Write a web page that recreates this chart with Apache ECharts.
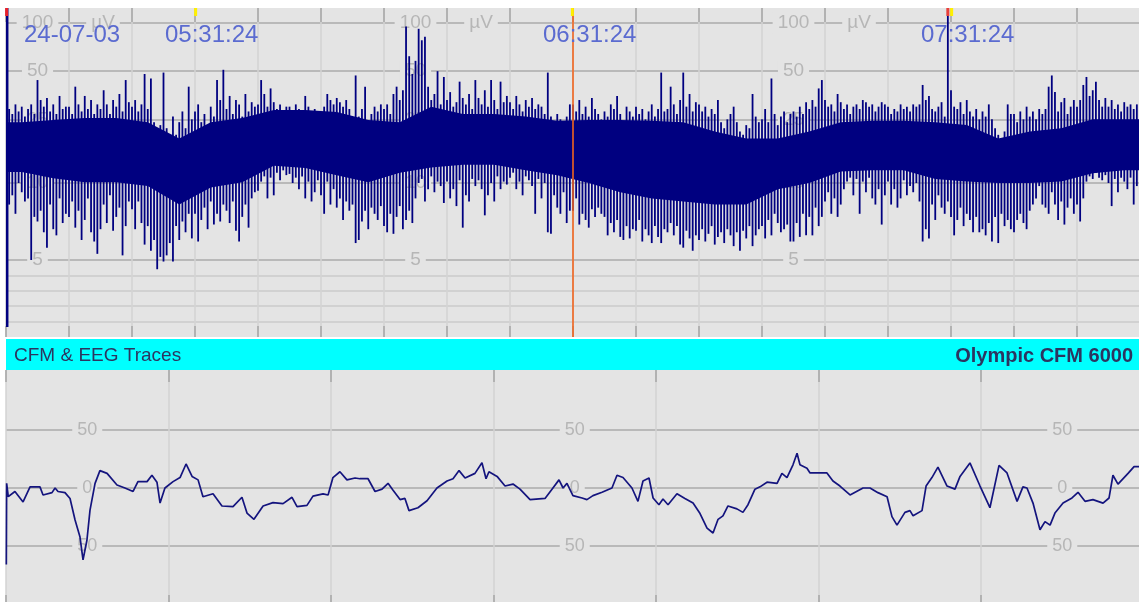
<!DOCTYPE html>
<html>
<head>
<meta charset="utf-8">
<title>CFM & EEG Traces</title>
<script src="https://cdn.jsdelivr.net/npm/echarts@6.0.0/dist/echarts.min.js"></script>
<style>
  html, body { margin: 0; padding: 0; background: #fff; }
  #chart { width: 1139px; height: 602px; }
</style>
</head>
<body>
<div id="chart"></div>
<script>
// CFM (aEEG) trace: one column per half minute, top and bottom of the column in µV
const cfmHi = [
  130, 29, 27, 31, 28, 30, 26, 29, 31, 27,
  44, 33, 30, 34, 28, 31, 27, 35, 29, 30,
  30, 27, 40, 31, 28, 35, 29, 33, 27, 31,
  29, 38, 31, 27, 33, 30, 36, 28, 44, 32,
  30, 33, 28, 31, 48, 29, 45, 24, 21, 23,
  49, 22, 19, 26, 20, 24, 28, 22, 40, 25,
  28, 31, 24, 27, 22, 30, 26, 44, 33, 51,
  29, 35, 27, 33, 31, 26, 36, 28, 32, 30,
  31, 44, 36, 30, 39, 32, 29, 31, 28, 30,
  30, 28, 31, 29, 27, 35, 30, 28, 29, 27,
  27, 30, 36, 33, 31, 34, 32, 30, 33, 29,
  25, 47, 26, 29, 40, 24, 27, 30, 28, 31,
  29, 31, 27, 36, 40, 33, 38, 95, 62, 48,
  58, 92, 78, 82, 40, 33, 36, 50, 31, 46,
  33, 37, 30, 32, 43, 34, 31, 36, 29, 44,
  34, 31, 38, 30, 44, 33, 29, 43, 32, 35,
  32, 29, 35, 31, 28, 33, 30, 34, 29, 31,
  30, 27, 49, 26, 24, 27, 25, 23, 26, 31,
  31, 28, 33, 27, 30, 26, 34, 29, 27, 25,
  28, 26, 31, 29, 35, 27, 24, 30, 28, 26,
  30, 27, 29, 25, 28, 31, 26, 29, 49, 28,
  29, 40, 31, 27, 33, 49, 30, 36, 28, 32,
  31, 28, 30, 26, 29, 27, 33, 24, 22, 25,
  27, 30, 24, 21, 20, 23, 22, 36, 26, 24,
  25, 29, 24, 45, 27, 23, 26, 28, 24, 27,
  28, 26, 30, 27, 32, 29, 33, 30, 39, 44,
  33, 30, 31, 28, 36, 32, 29, 31, 27, 30,
  31, 29, 33, 32, 30, 31, 28, 30, 32, 31,
  30, 27, 29, 28, 31, 29, 30, 28, 31, 30,
  31, 41, 33, 35, 29, 28, 30, 32, 26, 130,
  38, 30, 29, 32, 27, 33, 28, 26, 29, 25,
  28, 26, 31, 25, 22, 20, 18, 21, 31, 27,
  27, 24, 28, 25, 30, 26, 28, 25, 29, 27,
  29, 40, 47, 37, 28, 32, 34, 27, 30, 33,
  30, 33, 41, 46, 35, 38, 43, 33, 30, 34,
  30, 33, 29, 31, 28, 32, 30, 31, 29, 31
];
const cfmLo = [
  0.65, 8.6, 9.2, 8.0, 10.0, 9.4, 8.8, 9.0, 5.0, 7.8,
  7.5, 8.2, 6.8, 5.8, 8.6, 7.0, 6.6, 9.0, 7.4, 8.0,
  7.8, 8.8, 7.1, 8.2, 6.3, 7.6, 9.0, 6.8, 6.2, 5.4,
  7.0, 8.6, 7.4, 9.2, 6.9, 7.8, 8.4, 5.3, 7.2, 8.8,
  8.3, 7.0, 8.8, 7.4, 6.0, 7.2, 5.6, 6.3, 4.4, 5.2,
  4.9, 5.3, 6.1, 4.9, 7.2, 6.3, 7.5, 6.8, 8.0, 6.4,
  8.0, 6.2, 7.6, 8.4, 7.0, 8.8, 7.3, 8.0, 7.5, 8.6,
  8.2, 7.4, 8.8, 6.9, 6.2, 7.8, 8.6, 7.1, 9.0, 9.4,
  9.5, 10.2, 11.0, 9.0, 10.8, 9.2, 11.6, 10.4, 12.0, 11.2,
  11.4, 10.0, 10.8, 9.6, 11.0, 9.0, 10.2, 8.8, 9.4, 10.4,
  9.2, 8.0, 10.2, 8.6, 9.6, 8.4, 9.0, 7.6, 8.8, 8.2,
  8.6, 6.1, 6.3, 7.5, 8.2, 7.0, 8.4, 8.0, 7.6, 8.5,
  7.2, 6.8, 8.0, 6.7, 7.8, 8.5, 7.0, 7.6, 8.2, 7.4,
  9.0, 10.0, 10.6, 8.8, 9.6, 11.0, 9.4, 10.2, 9.8, 8.7,
  10.2, 9.0, 9.6, 8.5, 10.4, 7.1, 9.2, 8.8, 10.6, 9.8,
  10.4, 9.6, 7.9, 9.2, 10.0, 8.8, 11.0, 9.6, 10.2, 9.9,
  10.8, 11.6, 9.6, 10.2, 9.2, 11.0, 10.4, 9.8, 8.0, 10.6,
  9.0, 10.0, 6.8, 6.7, 9.2, 8.4, 8.0, 9.4, 7.4, 8.2,
  8.2, 9.0, 7.3, 8.0, 7.6, 7.1, 8.3, 7.8, 8.4, 8.0,
  7.8, 6.6, 7.4, 6.8, 7.6, 6.5, 6.3, 7.2, 6.4, 7.0,
  6.9, 7.6, 6.2, 7.0, 6.6, 6.1, 7.2, 6.5, 6.1, 7.0,
  6.8, 7.4, 6.6, 7.2, 6.0, 5.8, 6.9, 6.4, 5.6, 6.6,
  6.3, 7.0, 6.2, 6.7, 7.2, 6.0, 6.5, 6.8, 6.1, 7.0,
  6.6, 5.9, 6.8, 5.6, 6.9, 6.4, 7.2, 5.9, 6.6, 7.0,
  7.2, 6.4, 7.6, 6.6, 8.0, 7.4, 6.8, 7.0, 7.3, 6.2,
  6.2, 7.4, 6.5, 8.0, 6.6, 7.8, 6.6, 8.4, 7.2, 7.8,
  8.8, 9.4, 8.0, 9.0, 7.8, 8.6, 9.6, 10.2, 10.8, 9.2,
  10.6, 8.0, 10.2, 9.4, 10.8, 9.0, 8.6, 9.6, 7.3, 9.2,
  10.2, 8.6, 9.6, 8.4, 9.0, 10.4, 9.2, 9.8, 9.4, 10.0,
  8.8, 6.2, 7.0, 6.4, 8.6, 7.6, 9.2, 8.4, 8.0, 8.8,
  7.8, 6.6, 7.6, 8.4, 7.2, 8.0, 7.6, 6.8, 7.8, 6.8,
  7.0, 6.6, 7.4, 6.2, 7.8, 6.1, 8.0, 7.2, 7.6, 7.0,
  6.8, 7.6, 8.0, 7.4, 7.0, 8.2, 8.6, 9.0, 9.8, 8.6,
  8.4, 8.0, 9.4, 8.6, 7.6, 8.8, 7.3, 8.4, 9.0, 8.0,
  8.6, 7.5, 9.0, 10.2, 11.0, 10.6, 11.6, 10.8, 10.4, 11.2,
  10.0, 8.5, 10.6, 9.4, 10.8, 10.2, 9.6, 10.8, 8.6, 9.8
];
const cfmStepMin = 0.5;

// solid middle of the CFM band, one value per 5 minutes (µV)
const bandHi = [24, 24.8, 25.5, 25.5, 24, 19, 24, 25.5, 28.6, 28.6, 27.8, 24.8,
  24, 30, 27, 27, 26, 24.5, 24.8, 24.8, 24.5, 24, 21, 19,
  19, 21, 24, 24.5, 24.5, 24, 23, 19, 21, 22, 25, 25];
const bandLo = [11.7, 10.7, 10.1, 10.1, 9.8, 8.6, 9.7, 10.1, 12.8, 12.4, 11.2, 10.1,
  11.6, 12.5, 13, 13, 12, 11.2, 10, 9.4, 9.0, 8.8, 8.6, 8.6,
  9.6, 10, 11.8, 12, 12, 10.6, 10.2, 10, 10, 10.2, 11.5, 12];
const bandStepMin = 5;

const cfmTicks = [5, 10, 25, 50, 100];
const cfmMinorTicks = [1, 2, 3, 4];

// event marks along the top edge and the cursor, in minutes from the start
const eventMin = [0.1, 30.1, 89.9, 149.5, 150.1];
const eventColor = ['#e8202a', '#fff000', '#fff000', '#e8403a', '#fff000'];
const cursorMin = 90;

const dateLabel = '24-07-03';
const timeLabels = ['05:31:24', '06:31:24', '07:31:24'];
const timeLabelMin = [30, 90, 150];

// raw EEG trace: seconds, µV
const eegT = [
  0.002, 0.004, 0.014, 0.055, 0.105, 0.148, 0.209, 0.228, 0.283, 0.302,
  0.320, 0.363, 0.394, 0.425, 0.455, 0.474, 0.498, 0.517, 0.548, 0.578,
  0.622, 0.683, 0.732, 0.782, 0.812, 0.868, 0.898, 0.929, 0.948, 0.978,
  1.028, 1.071, 1.108, 1.145, 1.182, 1.212, 1.274, 1.329, 1.397, 1.452,
  1.483, 1.526, 1.582, 1.643, 1.705, 1.760, 1.791, 1.852, 1.889, 1.951,
  1.982, 2.012, 2.055, 2.098, 2.148, 2.178, 2.228, 2.271, 2.314, 2.351,
  2.382, 2.425, 2.455, 2.480, 2.535, 2.591, 2.652, 2.714, 2.751, 2.788,
  2.825, 2.886, 2.929, 2.954, 2.972, 3.022, 3.071, 3.120, 3.163, 3.225,
  3.317, 3.360, 3.403, 3.428, 3.452, 3.489, 3.545, 3.575, 3.612, 3.668,
  3.729, 3.760, 3.797, 3.852, 3.889, 3.920, 3.957, 3.982, 4.018, 4.043,
  4.074, 4.129, 4.178, 4.228, 4.271, 4.314, 4.351, 4.382, 4.412, 4.443,
  4.498, 4.535, 4.566, 4.609, 4.640, 4.683, 4.745, 4.775, 4.806, 4.843,
  4.868, 4.886, 4.929, 4.948, 5.052, 5.089, 5.132, 5.194, 5.274, 5.317,
  5.366, 5.422, 5.452, 5.483, 5.532, 5.563, 5.582, 5.637, 5.662, 5.698,
  5.735, 5.791, 5.840, 5.871, 5.932, 5.994, 6.055, 6.111, 6.160, 6.222,
  6.258, 6.283, 6.320, 6.363, 6.394, 6.425, 6.455, 6.505, 6.560, 6.597,
  6.640, 6.689, 6.751, 6.788, 6.812, 6.843, 6.905, 6.942, 6.978
];
const eegV = [
  -66, 4, -7.5, -3, -12, 1, 1, -6, -4, 0,
  -3, -4, -9, -27.6, -42, -62, -45, -19, 4, 15,
  12.6, 2.6, 0, -3, 5.5, 5.5, 11, 5, -13, 0,
  5.5, 9, 20.7, 10, 7, -7.5, -5, -15.5, -16, -8,
  -21.6, -27, -15.5, -12.6, -13.5, -8, -16, -15, -7, -5,
  -6, 9, 14, 7, 8.6, 8, 8, -3, -1, 4,
  -2, -10, -9, -19.5, -17, -11, 0, 6, 8, 15,
  8.6, 12.6, 21.8, 8, 14, 10, 1.7, 3.4, -1, -10,
  -9, -1, 7, 0, 4, -6.6, -8.6, -10, -6.6, -3.7,
  0, 11, 9, 0, -11.5, 6, 8.6, -8.6, -14.4, -9.5,
  -14.4, -5, -9, -13, -22, -34.5, -38.8, -27, -24, -15.5,
  -18, -21, -14.4, -1, 1, 5, 4, 12.6, 9, 20,
  30, 20, 17, 13, 13, 6, 1.7, -6, 0, 0,
  -4, -7.5, -24.7, -32, -21, -19.5, -24, -19.5, 1.7, 9,
  18, 1.7, -1, 10, 21.6, 1.7, -17, 19.5, 13, -11.5,
  1, 0, -13, -36, -29, -32, -21.6, -13, -8.6, -3.7,
  -11.5, -10, -13, -8.6, 11, 3.4, 12.6, 18.4, 18.4
];
const eegTicks = [-50, 0, 50];

const NAVY = '#000080';
const BG = '#e4e4e4';
const GRID_DARK = '#ababab';
const GRID_LIGHT = '#d3d3d3';
const LABEL = '#b6b6b6';
const FONT = "'Liberation Sans', Arial, sans-serif";

// CFM scale: linear 0-10 µV, log 10-100 µV (one decade = 160px, one µV = 15.4px)
const PX_PER_UV = 15.4;
const DECADE = 160 / PX_PER_UV;
const U = v => (v <= 10 ? v : 10 + DECADE * Math.log10(v / 10));

const TOP_H = 329;
const CFM_MAX = TOP_H / PX_PER_UV;
const PX_PER_MIN = 6.3;
const PX_PER_S = 162.5;
const EEG_MAX = 101.7;

const cfmLabel = u => {
    const v = cfmTicks.find(t => Math.abs(U(t) - u) < 1e-6);
    return v === undefined ? '' : String(v);
};

const labelAxis = (gridIndex, offset, min, max, values, formatter, fontSize) => ({
    type: 'value',
    gridIndex,
    position: 'left',
    offset: -offset,
    min,
    max,
    z: 3,
    axisLine: { show: false, onZero: false },
    axisTick: { show: false },
    splitLine: { show: false },
    axisLabel: {
        customValues: values,
        formatter,
        align: 'center',
        margin: 0,
        color: LABEL,
        fontSize,
        fontFamily: FONT,
        backgroundColor: BG,
        padding: [1, 5],
    },
});

const timeAxis = (gridIndex, position, max, interval, tickLen, split) => ({
    type: 'value',
    gridIndex,
    position,
    min: 0,
    max,
    interval,
    axisLine: { show: false, onZero: false },
    axisTick: { show: true, inside: true, length: tickLen, lineStyle: { color: '#a6a6a6', width: 1.5 } },
    axisLabel: { show: false },
    splitLine: { show: split, lineStyle: { color: GRID_LIGHT, width: 1.5 } },
});

const lineAxis = (gridIndex, min, max, values, color) => ({
    type: 'value',
    gridIndex,
    position: 'left',
    min,
    max,
    axisLine: { show: false, onZero: false },
    axisTick: { show: false, customValues: values },
    axisLabel: { show: false },
    splitLine: { show: true, lineStyle: { color, width: 1.5 } },
});

const cfmTickU = cfmTicks.map(U);

const option = {
    animation: false,
    backgroundColor: '#ffffff',
    grid: [
        { left: 6, top: 8, width: 180 * PX_PER_MIN, height: TOP_H, show: true, backgroundColor: BG, borderWidth: 0, outerBoundsMode: 'none' },
        { left: 6, top: 370, width: 7 * PX_PER_S, height: 236, show: true, backgroundColor: BG, borderWidth: 0, outerBoundsMode: 'none' },
    ],
    xAxis: [
        timeAxis(0, 'bottom', 180, 10, 11, true),
        timeAxis(0, 'top', 180, 10, 14, false),
        timeAxis(1, 'top', 7, 1, 12, true),
        timeAxis(1, 'bottom', 7, 1, 11, false),
    ],
    yAxis: [
        lineAxis(0, 0, CFM_MAX, cfmTickU, GRID_DARK),
        lineAxis(0, 0, CFM_MAX, cfmMinorTicks, '#cbcbcb'),
        labelAxis(0, 5 * PX_PER_MIN, 0, CFM_MAX, cfmTickU, cfmLabel, 19),
        labelAxis(0, 65 * PX_PER_MIN, 0, CFM_MAX, cfmTickU, cfmLabel, 19),
        labelAxis(0, 125 * PX_PER_MIN, 0, CFM_MAX, cfmTickU, cfmLabel, 19),
        labelAxis(0, 15.4 * PX_PER_MIN, 0, CFM_MAX, [U(100)], () => 'µV', 19),
        labelAxis(0, 75.4 * PX_PER_MIN, 0, CFM_MAX, [U(100)], () => 'µV', 19),
        labelAxis(0, 135.4 * PX_PER_MIN, 0, CFM_MAX, [U(100)], () => 'µV', 19),
        lineAxis(1, -EEG_MAX, EEG_MAX, eegTicks, GRID_DARK),
        labelAxis(1, 0.5 * PX_PER_S, -EEG_MAX, EEG_MAX, eegTicks, v => String(Math.abs(v)), 18),
        labelAxis(1, 3.5 * PX_PER_S, -EEG_MAX, EEG_MAX, eegTicks, v => String(Math.abs(v)), 18),
        labelAxis(1, 6.5 * PX_PER_S, -EEG_MAX, EEG_MAX, eegTicks, v => String(Math.abs(v)), 18),
    ],
    series: [
        {
            // solid middle of the band
            type: 'custom',
            xAxisIndex: 0,
            yAxisIndex: 0,
            z: 4,
            silent: true,
            data: [[90, 15]],
            renderItem: (params, api) => {
                const top = [];
                const bottom = [];
                const n = bandHi.length;
                for (let g = -1; g <= n; g++) {
                    const k = Math.min(Math.max(g, 0), n - 1);
                    const t = g < 0 ? 0 : g >= n ? 180 : bandStepMin / 2 + bandStepMin * g;
                    top.push(api.coord([t, U(bandHi[k])]));
                    bottom.push(api.coord([t, U(bandLo[k])]));
                }
                return { type: 'polygon', shape: { points: top.concat(bottom.reverse()) }, style: { fill: NAVY } };
            },
        },
        {
            // one column per sample
            type: 'custom',
            xAxisIndex: 0,
            yAxisIndex: 0,
            z: 5,
            silent: true,
            encode: { x: 0, y: [1, 2] },
            data: cfmHi.map((h, i) => [i * cfmStepMin, U(cfmLo[i]), U(h)]),
            renderItem: (params, api) => {
                const cs = params.coordSys;
                const first = params.dataIndex === 0;
                const x = api.coord([api.value(0), 0])[0] + (first ? 1.2 : 0);
                const yLo = Math.min(api.coord([0, api.value(1)])[1], cs.y + cs.height);
                const yHi = Math.max(api.coord([0, api.value(2)])[1], cs.y);
                return {
                    type: 'line',
                    shape: { x1: x, y1: yLo, x2: x, y2: yHi },
                    style: { stroke: NAVY, lineWidth: first ? 2.5 : 1.8 },
                };
            },
        },
        {
            type: 'custom',
            xAxisIndex: 0,
            yAxisIndex: 0,
            z: 6,
            silent: true,
            data: [[cursorMin, 0]],
            renderItem: (params, api) => {
                const cs = params.coordSys;
                const x = api.coord([api.value(0), 0])[0];
                return {
                    type: 'line',
                    shape: { x1: x, y1: cs.y, x2: x, y2: cs.y + cs.height },
                    style: { stroke: '#f0641e', lineWidth: 1.6 },
                };
            },
        },
        {
            type: 'custom',
            xAxisIndex: 0,
            yAxisIndex: 0,
            z: 7,
            silent: true,
            data: eventMin.map((t, i) => [t, i]),
            renderItem: (params, api) => {
                const cs = params.coordSys;
                const x = api.coord([api.value(0), 0])[0];
                return {
                    type: 'rect',
                    shape: { x: x - 1.5, y: cs.y, width: 3, height: 8 },
                    style: { fill: eventColor[params.dataIndex] },
                };
            },
        },
        {
            type: 'line',
            xAxisIndex: 2,
            yAxisIndex: 8,
            z: 5,
            silent: true,
            showSymbol: false,
            data: eegT.map((t, i) => [t, eegV[i]]),
            lineStyle: { color: '#14147e', width: 1.7 },
        },
    ],
};

const chart = echarts.init(document.getElementById('chart'));
chart.setOption(option);

const px = t => chart.convertToPixel({ xAxisIndex: 0 }, t);
const textStyle = (text, size, color, weight) => ({
    text,
    fill: color,
    font: `${weight || 'normal'} ${size}px ${FONT}`,
    verticalAlign: 'middle',
});

chart.setOption({
    graphic: [
        { type: 'rect', left: 6, top: 339, shape: { width: 1133, height: 31 }, style: { fill: '#00ffff' } },
        { type: 'text', x: 14, y: 356, style: textStyle('CFM & EEG Traces', 19, '#2c3560') },
        { type: 'text', x: 1133, y: 356, style: Object.assign(textStyle('Olympic CFM 6000', 20, '#2c3560', 'bold'), { align: 'right' }) },
        { type: 'text', x: px(0) + 18, y: 35, z: 10, style: textStyle(dateLabel, 24, '#5b6bd0') },
        ...timeLabels.map((label, i) => ({
            type: 'text', x: px(timeLabelMin[i]) - 30, y: 35, z: 10, style: textStyle(label, 24, '#5b6bd0'),
        })),
    ],
});

window.onresize = () => chart.resize();
</script>
</body>
</html>
